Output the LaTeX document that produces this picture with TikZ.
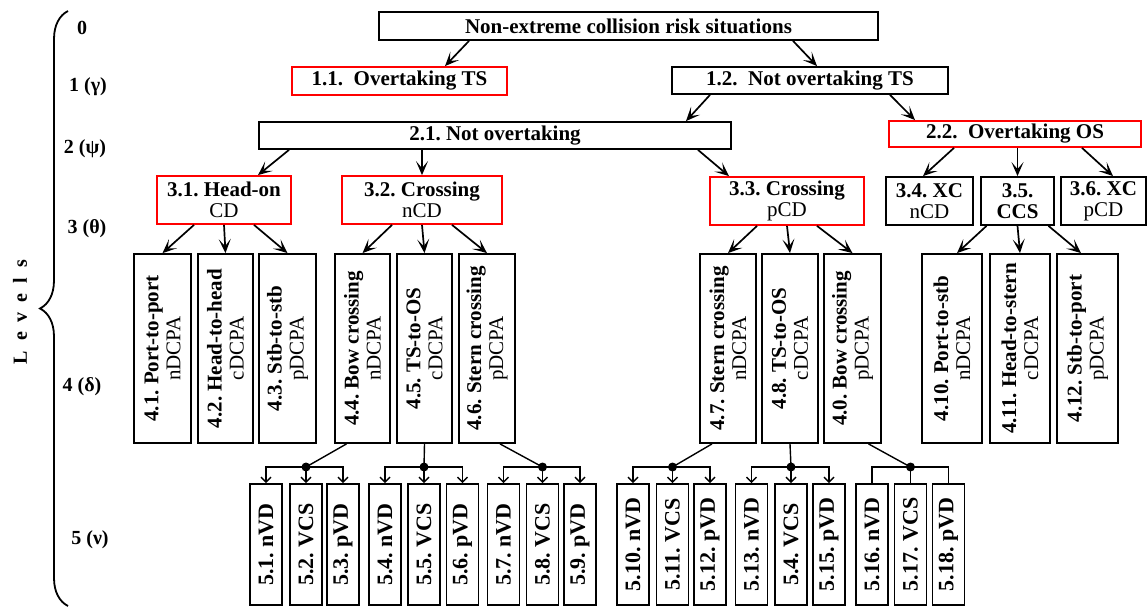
\documentclass[tikz,border=0pt]{standalone}
\usepackage{fontspec}
\setmainfont{Liberation Serif}
\usetikzlibrary{arrows.meta, decorations.pathreplacing}
\frenchspacing
\tikzstyle{boxes} = [rectangle, draw=black, line width=1.8pt, inner sep=0pt, text centered, font=\fontsize{21}{21}\selectfont\bfseries]
\tikzstyle{redbox} = [boxes, draw=red]
\tikzstyle{subbox} = [boxes, align=center, minimum height=48pt, font=\fontsize{21}{21}\selectfont]
\tikzstyle{vbox} = [rectangle, draw=black, line width=1.8pt, inner sep=0pt, rotate=90, align=center, minimum width=189pt, font=\fontsize{21}{22}\selectfont]
\tikzstyle{sbox} = [rectangle, draw=black, line width=1.8pt, inner sep=0pt, rotate=90, minimum width=121pt, minimum height=32pt, font=\fontsize{22}{22}\selectfont\bfseries]
\tikzstyle{arrow} = [line width=1.7pt, -{Stealth[length=14pt, width=12pt, inset=7pt]}]
\tikzstyle{smallarrow} = [line width=1.4pt, -{Straight Barb[length=5pt, width=10pt]}]
\tikzstyle{link} = [line width=1.4pt]
\tikzstyle{lvl} = [font=\fontsize{20}{20}\selectfont\bfseries]

\begin{document}
\begin{tikzpicture}[x=1pt, y=-1pt]
    \useasboundingbox (0,0) rectangle (1148,608);

    %Levels
    \draw [line width=1.8pt, decorate, decoration={brace, amplitude=28pt}] (68,606) -- (68,11);
    \node (levels) [lvl, rotate=90] at (20,312) {L\ \ e\ \ v\ \ e\ \ l\ \ s};
    \node (lv0) [lvl] at (82,28) {0};
    \node (lv1) [lvl] at (88,87) {1 (γ)};
    \node (lv2) [lvl] at (85,149) {2 (ψ)};
    \node (lv3) [lvl] at (87,229) {3 (θ)};
    \node (lv4) [lvl] at (82,387) {4 (δ)};
    \node (lv5) [lvl] at (90,540) {5 (ν)};

    %Levels 0-2
    \node (root) [boxes, minimum width=499pt, minimum height=28pt] at (628.5,26) {Non-extreme collision risk situations};
    \node (ovTS) [redbox, minimum width=215pt, minimum height=28pt] at (399.5,81) {1.1.~~Overtaking TS};
    \node (notovTS) [boxes, minimum width=276pt, minimum height=27pt] at (810,80.5) {1.2.~~Not overtaking TS};
    \node (notov) [boxes, minimum width=472pt, minimum height=27pt] at (495,135.5) {2.1. Not overtaking};
    \node (ovOS) [redbox, minimum width=252pt, minimum height=26pt] at (1015,134) {2.2.~~Overtaking OS};

    %Level 3
    \node (headon) [subbox, draw=red, minimum width=134pt] at (224,200) {\textbf{3.1. Head-on}\\CD};
    \node (crossN) [subbox, draw=red, minimum width=160pt] at (422,200) {\textbf{3.2. Crossing}\\nCD};
    \node (crossP) [subbox, draw=red, minimum width=154pt] at (787,201) {\textbf{3.3. Crossing}\\pCD};
    \node (xcN) [subbox, minimum width=87pt] at (929.5,201) {\textbf{3.4. XC}\\nCD};
    \node (ccs) [subbox, minimum width=73pt] at (1017.5,201) {\textbf{3.5.}\\\textbf{CCS}};
    \node (xcP) [subbox, minimum width=85pt] at (1103.5,201) {\textbf{3.6. XC}\\pCD};

    %Level 4
    \node (p2p) [vbox, minimum height=57pt] at (162.5,348.5) {\textbf{4.1. Port-to-port}\\nDCPA};
    \node (h2h) [vbox, minimum height=55pt] at (225.5,348.5) {\textbf{4.2. Head-to-head}\\cDCPA};
    \node (s2s) [vbox, minimum height=57pt] at (287.5,348.5) {\textbf{4.3. Stb-to-stb}\\pDCPA};
    \node (bowN) [vbox, minimum height=55pt] at (362.5,348.5) {\textbf{4.4. Bow crossing}\\nDCPA};
    \node (tsosC) [vbox, minimum height=55pt] at (424.5,348.5) {\textbf{4.5. TS-to-OS}\\cDCPA};
    \node (sternP) [vbox, minimum height=56pt] at (487,348.5) {\textbf{4.6. Stern crossing}\\pDCPA};
    \node (sternN) [vbox, minimum height=56pt] at (728,348.5) {\textbf{4.7. Stern crossing}\\nDCPA};
    \node (tsos) [vbox, minimum height=56pt] at (790,348.5) {\textbf{4.8. TS-to-OS}\\cDCPA};
    \node (bowP) [vbox, minimum height=57pt] at (852.5,348.5) {\textbf{4.0. Bow crossing}\\pDCPA};
    \node (p2s) [vbox, minimum height=60pt] at (952,348.5) {\textbf{4.10. Port-to-stb}\\nDCPA};
    \node (h2s) [vbox, minimum height=60pt] at (1020,348.5) {\textbf{4.11. Head-to-stern}\\cDCPA};
    \node (s2p) [vbox, minimum height=61pt] at (1087.5,348.5) {\textbf{4.12. Stb-to-port}\\pDCPA};

    %Level 5
    \node (nvdA) [sbox] at (266,544.5) {5.1. nVD};
    \node (vcsA) [sbox] at (306,544.5) {5.2. VCS};
    \node (pvdA) [sbox] at (343,544.5) {5.3. pVD};
    \node (nvdB) [sbox] at (385,544.5) {5.4. nVD};
    \node (vcsB) [sbox] at (424,544.5) {5.5. VCS};
    \node (pvdB) [sbox] at (462.5,544.5) {5.6. pVD};
    \node (nvdC) [sbox] at (503.5,544.5) {5.7. nVD};
    \node (vcsC) [sbox] at (542.5,544.5) {5.8. VCS};
    \node (pvdC) [sbox] at (580,544.5) {5.9. pVD};
    \node (nvdD) [sbox] at (633,544.5) {5.10. nVD};
    \node (vcsD) [sbox] at (672.5,544.5) {5.11. VCS};
    \node (pvdD) [sbox] at (710,544.5) {5.12. pVD};
    \node (nvdE) [sbox] at (751.5,544.5) {5.13. nVD};
    \node (vcsE) [sbox] at (791,544.5) {5.4. VCS};
    \node (pvdE) [sbox] at (829,544.5) {5.15. pVD};
    \node (nvdF) [sbox] at (872,544.5) {5.16. nVD};
    \node (vcsF) [sbox] at (910.5,544.5) {5.17. VCS};
    \node (pvdF) [sbox] at (948.5,544.5) {5.18. pVD};

    %Junctions
    \coordinate (jA) at (306,467);
    \coordinate (jB) at (424,467);
    \coordinate (jC) at (542.5,467);
    \coordinate (jD) at (672.5,467);
    \coordinate (jE) at (791,467);
    \coordinate (jF) at (910.5,467);

    %Arrows
    \draw [arrow] ([xshift=-159.5pt]root.south) -- ([xshift=45.5pt]ovTS.north);
    \draw [arrow] ([xshift=164.5pt]root.south) -- ([xshift=7pt]notovTS.north);
    \draw [arrow] ([xshift=-100pt]notovTS.south) -- ([xshift=191pt]notov.north);
    \draw [arrow] ([xshift=80pt]notovTS.south) -- ([xshift=-100pt]ovOS.north);
    \draw [arrow] ([xshift=-206pt]notov.south) -- ([xshift=34pt]headon.north);
    \draw [arrow] ([xshift=-73pt]notov.south) -- (crossN.north);
    \draw [arrow] ([xshift=203pt]notov.south) -- ([xshift=-58pt]crossP.north);
    \draw [arrow] ([xshift=-61pt]ovOS.south) -- ([xshift=-6.5pt]xcN.north);
    \draw [arrow] ([xshift=2.5pt]ovOS.south) -- (ccs.north);
    \draw [arrow] ([xshift=67pt]ovOS.south) -- ([xshift=9.5pt]xcP.north);

    \draw [arrow] ([xshift=-30pt]headon.south) -- (p2p.east);
    \draw [arrow] (headon.south) -- (h2h.east);
    \draw [arrow] ([xshift=30pt]headon.south) -- (s2s.east);
    \draw [arrow] ([xshift=-30pt]crossN.south) -- (bowN.east);
    \draw [arrow] (crossN.south) -- (tsosC.east);
    \draw [arrow] ([xshift=30pt]crossN.south) -- (sternP.east);
    \draw [arrow] ([xshift=-30pt]crossP.south) -- (sternN.east);
    \draw [arrow] (crossP.south) -- (tsos.east);
    \draw [arrow] ([xshift=30pt]crossP.south) -- (bowP.east);
    \draw [arrow] ([xshift=-31pt]ccs.south) -- ([xshift=5pt]p2s.east);
    \draw [arrow] (ccs.south) -- (h2s.east);
    \draw [arrow] ([xshift=31pt]ccs.south) -- ([xshift=-6.5pt]s2p.east);

    \draw [link] ([xshift=-16pt]bowN.west) -- (jA);
    \draw [smallarrow] (jA) -| (nvdA.east);
    \draw [smallarrow] (jA) -- (vcsA.east);
    \draw [smallarrow] (jA) -| (pvdA.east);
    \draw [link] (tsosC.west) -- (jB);
    \draw [smallarrow] (jB) -| (nvdB.east);
    \draw [smallarrow] (jB) -- (vcsB.east);
    \draw [smallarrow] (jB) -| (pvdB.east);
    \draw [link] ([xshift=13pt]sternP.west) -- (jC);
    \draw [smallarrow] (jC) -| (nvdC.east);
    \draw [smallarrow] (jC) -- (vcsC.east);
    \draw [smallarrow] (jC) -| (pvdC.east);
    \draw [link] ([xshift=-16pt]sternN.west) -- (jD);
    \draw [smallarrow] (jD) -| (nvdD.east);
    \draw [smallarrow] (jD) -- (vcsD.east);
    \draw [smallarrow] (jD) -| (pvdD.east);
    \draw [link] (tsos.west) -- (jE);
    \draw [smallarrow] (jE) -| (nvdE.east);
    \draw [smallarrow] (jE) -- (vcsE.east);
    \draw [smallarrow] (jE) -| (pvdE.east);
    \draw [link] ([xshift=16pt]bowP.west) -- (jF);
    \draw [link] (jF) -| (nvdF.east);
    \draw [link] (jF) -- (vcsF.east);
    \draw [link] (jF) -| (pvdF.east);
    \foreach \j in {jA,jB,jC,jD,jE,jF}
        \fill (\j) circle (4.5pt);

\end{tikzpicture}
\end{document}
